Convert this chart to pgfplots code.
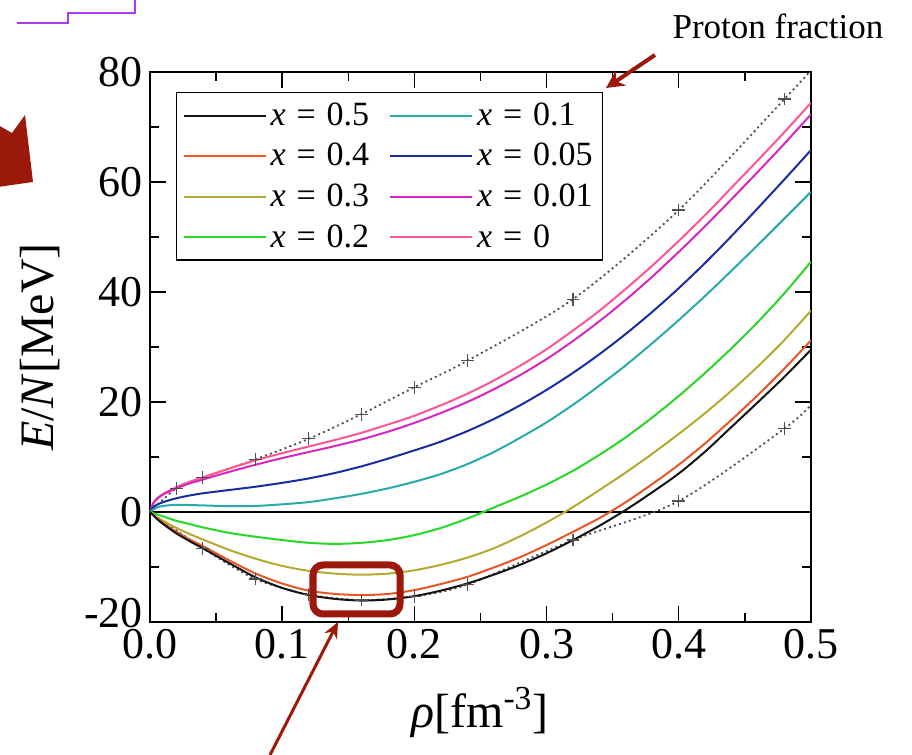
\documentclass[border=0pt]{standalone}
\usepackage{fontspec}
\setmainfont{Liberation Serif}
\usepackage{pgfplots}
\pgfplotsset{compat=1.18}
\usetikzlibrary{arrows.meta}

\definecolor{c05}{RGB}{20,20,20}
\definecolor{c04}{RGB}{232,85,40}
\definecolor{c03}{RGB}{178,170,50}
\definecolor{c02}{RGB}{40,215,40}
\definecolor{c01}{RGB}{40,170,170}
\definecolor{c005}{RGB}{25,45,160}
\definecolor{c001}{RGB}{215,40,190}
\definecolor{c0}{RGB}{255,85,150}
\definecolor{annred}{RGB}{155,25,10}
\definecolor{annviolet}{RGB}{170,60,240}
\definecolor{dotgray}{RGB}{80,80,80}

\newcommand{\xeq}[1]{\textit{x}\hspace{0.32em}=\hspace{0.32em}#1}

\begin{document}
\begin{tikzpicture}
\begin{axis}[
    scale only axis,
    width=330.5pt, height=275pt,
    xmin=0, xmax=0.5, ymin=-20, ymax=80,
    xtick={0,0.1,0.2,0.3,0.4,0.5},
    xticklabels={0.0,0.1,0.2,0.3,0.4,0.5},
    minor xtick={0.05,0.15,0.25,0.35,0.45},
    ytick={-20,0,20,40,60,80},
    yticklabels={\raisebox{4.5pt}[\height][\depth]{-20},0,20,40,60,80},
    minor ytick={-10,10,30,50,70},
    tick align=inside,
    major tick length=8pt, minor tick length=4.5pt,
    every tick/.style={black, line width=0.7pt},
    axis line style={line width=1pt},
    tick label style={font=\fontsize{22}{24}\selectfont},
    xlabel={\textit{ρ}[fm\textsuperscript{-3}]},
    ylabel={\textit{E}/\textit{N}[MeV]},
    xlabel style={font=\fontsize{24}{26}\selectfont, at={(axis description cs:0.499,-0.165)}, anchor=center},
    ylabel style={font=\fontsize{24}{26}\selectfont, at={(axis description cs:-0.166,0.5)}, anchor=center},
    legend columns=2,
    legend cell align=left,
    legend style={at={(0.0393,0.9636)}, anchor=north west, draw=black, line width=0.7pt,
                  font=\fontsize{17}{19}\selectfont, inner xsep=3pt, inner ysep=3pt,
                  row sep=3.5pt, /tikz/every even column/.append style={column sep=8pt}},
    legend image code/.code={\path (-5pt,0pt) -- (36pt,0pt);\draw[#1] (0pt,0pt) -- (29pt,0pt);},
]

% zero line
\addplot[black, line width=0.8pt, forget plot] coordinates {(0,0) (0.5,0)};

% pure neutron matter reference (dotted, with crosses)
\addplot[dotgray, line width=0.9pt, dash pattern=on 1pt off 1.6pt, smooth, forget plot] coordinates {
(0,0) (0.02,4.3) (0.04,6.2) (0.08,9.6) (0.12,13.3) (0.16,17.8) (0.20,22.7) (0.24,27.5) (0.32,38.7) (0.40,54.9) (0.48,75.1) (0.50,80.3)};
\addplot[only marks, mark=+, mark size=3.2pt, dotgray, line width=0.6pt, forget plot] coordinates {
(0.02,4.3) (0.04,6.2) (0.08,9.6) (0.12,13.3) (0.16,17.8) (0.20,22.7) (0.24,27.5) (0.32,38.7) (0.40,54.9) (0.48,75.1)};

% symmetric nuclear matter reference
\addplot[dotgray, line width=0.9pt, dash pattern=on 1pt off 1.6pt, smooth, forget plot] coordinates {
(0,0) (0.04,-6.6) (0.08,-12.2) (0.12,-15.0) (0.16,-16.0) (0.20,-15.3) (0.24,-13.2) (0.32,-5.1) (0.40,2.0) (0.48,15.2) (0.50,19.5)};
\addplot[only marks, mark=+, mark size=3.2pt, dotgray, line width=0.6pt, forget plot] coordinates {
(0.04,-6.6) (0.08,-12.2) (0.12,-15.0) (0.16,-16.0) (0.20,-15.3) (0.24,-13.2) (0.32,-5.1) (0.40,2.0) (0.48,15.2)};

% x = 0
\addplot[c0, line width=1pt, smooth, forget plot] coordinates {
(0,0) (0.0025,1.7) (0.005,2.4) (0.01,3.3) (0.02,4.5) (0.03,5.5) (0.04,6.3) (0.06,7.9) (0.08,9.4) (0.10,10.7) (0.12,11.9) (0.14,13.1) (0.16,14.4) (0.18,15.9) (0.20,17.5) (0.22,19.4) (0.24,21.5) (0.26,23.9) (0.28,26.6) (0.30,29.6) (0.32,33.0) (0.34,36.6) (0.36,40.6) (0.38,44.8) (0.40,49.3) (0.42,54.0) (0.44,59.0) (0.46,64.0) (0.48,69.1) (0.50,74.4)};

% x = 0.01
\addplot[c001, line width=1pt, smooth, forget plot] coordinates {
(0,0) (0.0025,1.6) (0.005,2.3) (0.01,3.2) (0.02,4.3) (0.03,5.2) (0.04,5.9) (0.06,7.3) (0.08,8.6) (0.10,9.8) (0.12,10.9) (0.14,12.0) (0.16,13.2) (0.18,14.6) (0.20,16.2) (0.22,18.0) (0.24,20.0) (0.26,22.3) (0.28,24.9) (0.30,27.8) (0.32,31.1) (0.34,34.7) (0.36,38.6) (0.38,42.8) (0.40,47.3) (0.42,52.0) (0.44,56.9) (0.46,61.9) (0.48,67.0) (0.50,72.3)};

% x = 0.05
\addplot[c005, line width=1pt, smooth, forget plot] coordinates {
(0,0) (0.0025,0.9) (0.005,1.3) (0.01,1.8) (0.02,2.5) (0.03,3.0) (0.04,3.4) (0.06,4.0) (0.08,4.6) (0.10,5.3) (0.12,6.1) (0.14,7.1) (0.16,8.3) (0.18,9.7) (0.20,11.2) (0.22,12.8) (0.24,14.7) (0.26,16.9) (0.28,19.4) (0.30,22.2) (0.32,25.3) (0.34,28.7) (0.36,32.4) (0.38,36.4) (0.40,40.7) (0.42,45.3) (0.44,50.2) (0.46,55.3) (0.48,60.5) (0.50,65.8)};

% x = 0.1
\addplot[c01, line width=1pt, smooth, forget plot] coordinates {
(0,0) (0.005,0.8) (0.01,1.1) (0.02,1.3) (0.04,1.2) (0.06,1.05) (0.08,1.1) (0.10,1.4) (0.12,1.8) (0.14,2.5) (0.16,3.3) (0.18,4.3) (0.20,5.5) (0.22,6.9) (0.24,8.7) (0.26,10.9) (0.28,13.5) (0.30,16.3) (0.32,19.5) (0.34,23.0) (0.36,26.7) (0.38,30.7) (0.40,34.9) (0.42,39.3) (0.44,43.9) (0.46,48.6) (0.48,53.4) (0.50,58.2)};

% x = 0.2
\addplot[c02, line width=1pt, smooth, forget plot] coordinates {
(0,0) (0.005,-0.4) (0.01,-0.8) (0.02,-1.6) (0.03,-2.2) (0.04,-2.8) (0.06,-3.8) (0.08,-4.5) (0.10,-5.1) (0.12,-5.6) (0.14,-5.8) (0.16,-5.6) (0.18,-5.1) (0.20,-4.2) (0.22,-2.9) (0.24,-1.2) (0.26,0.8) (0.28,2.8) (0.30,5.0) (0.32,7.5) (0.34,10.4) (0.36,13.6) (0.38,17.2) (0.40,21.1) (0.42,25.3) (0.44,29.8) (0.46,34.6) (0.48,39.8) (0.50,45.5)};

% x = 0.3
\addplot[c03, line width=1pt, smooth, forget plot] coordinates {
(0,0) (0.005,-0.9) (0.01,-1.6) (0.02,-2.9) (0.03,-4.0) (0.04,-5.0) (0.06,-6.9) (0.08,-8.5) (0.10,-9.8) (0.12,-10.7) (0.14,-11.2) (0.16,-11.4) (0.18,-11.2) (0.20,-10.6) (0.22,-9.6) (0.24,-8.3) (0.26,-6.6) (0.28,-4.4) (0.30,-1.9) (0.32,0.9) (0.34,4.0) (0.36,7.2) (0.38,10.6) (0.40,14.2) (0.42,18.0) (0.44,22.1) (0.46,26.5) (0.48,31.3) (0.50,36.6)};

% x = 0.4
\addplot[c04, line width=1pt, smooth, forget plot] coordinates {
(0,0) (0.005,-1.1) (0.01,-2.0) (0.02,-3.6) (0.03,-5.0) (0.04,-6.2) (0.06,-8.8) (0.08,-11.2) (0.10,-13.0) (0.12,-14.3) (0.14,-14.9) (0.16,-15.1) (0.18,-14.9) (0.20,-14.2) (0.22,-13.1) (0.24,-11.8) (0.26,-10.1) (0.28,-8.2) (0.30,-6.0) (0.32,-3.6) (0.34,-1.1) (0.36,1.8) (0.38,5.1) (0.40,8.6) (0.42,12.5) (0.44,16.8) (0.46,21.3) (0.48,26.1) (0.50,31.2)};

% x = 0.5
\addplot[c05, line width=1pt, smooth, forget plot] coordinates {
(0,0) (0.005,-1.2) (0.01,-2.2) (0.02,-3.9) (0.03,-5.3) (0.04,-6.6) (0.06,-9.3) (0.08,-11.9) (0.10,-13.8) (0.12,-15.1) (0.14,-15.8) (0.16,-16.1) (0.18,-15.9) (0.20,-15.3) (0.22,-14.3) (0.24,-13.0) (0.26,-11.4) (0.28,-9.6) (0.30,-7.5) (0.32,-5.1) (0.34,-2.5) (0.36,0.4) (0.38,3.6) (0.40,7.0) (0.42,11.0) (0.44,15.5) (0.46,20.0) (0.48,24.6) (0.50,29.5)};

% legend, filled row by row
\addlegendimage{c05, line width=1pt}
\addlegendimage{c01, line width=1pt}
\addlegendimage{c04, line width=1pt}
\addlegendimage{c005, line width=1pt}
\addlegendimage{c03, line width=1pt}
\addlegendimage{c001, line width=1pt}
\addlegendimage{c02, line width=1pt}
\addlegendimage{c0, line width=1pt}
\legend{\xeq{0.5}, \xeq{0.1}, \xeq{0.4}, \xeq{0.05},
        \xeq{0.3}, \xeq{0.01}, \xeq{0.2}, \xeq{0}}
\end{axis}

% slide annotations (1 px of the reference = 0.5pt, origin at the axis' lower left corner)
\node[font=\fontsize{17.5}{19}\selectfont] at (314pt,298pt) {Proton fraction};
\draw[annred, line width=2pt, -{Stealth[length=9pt,width=9pt]}] (252.5pt,283.5pt) -- (228pt,267pt);
\draw[annred, line width=3.5pt, rounded corners=5pt] (81.5pt,28.5pt) rectangle (125pt,4pt);
\draw[annred, line width=1.5pt, -{Stealth[length=8pt,width=7pt]}] (60pt,-66.5pt) -- (94pt,0pt);
\draw[annviolet, line width=1.2pt] (-66.5pt,299.5pt) -- (-41pt,299.5pt) -- (-41pt,304.5pt) -- (-7.5pt,304.5pt) -- (-7.5pt,312pt);
\fill[annred] (-76pt,248.5pt) -- (-69pt,244.5pt) -- (-62.5pt,253.5pt) -- (-58.5pt,220pt) -- (-76pt,217.5pt) -- cycle;

\pgfresetboundingbox
\path (-75pt,-66.5pt) rectangle (381pt,311pt);
\end{tikzpicture}
\end{document}
